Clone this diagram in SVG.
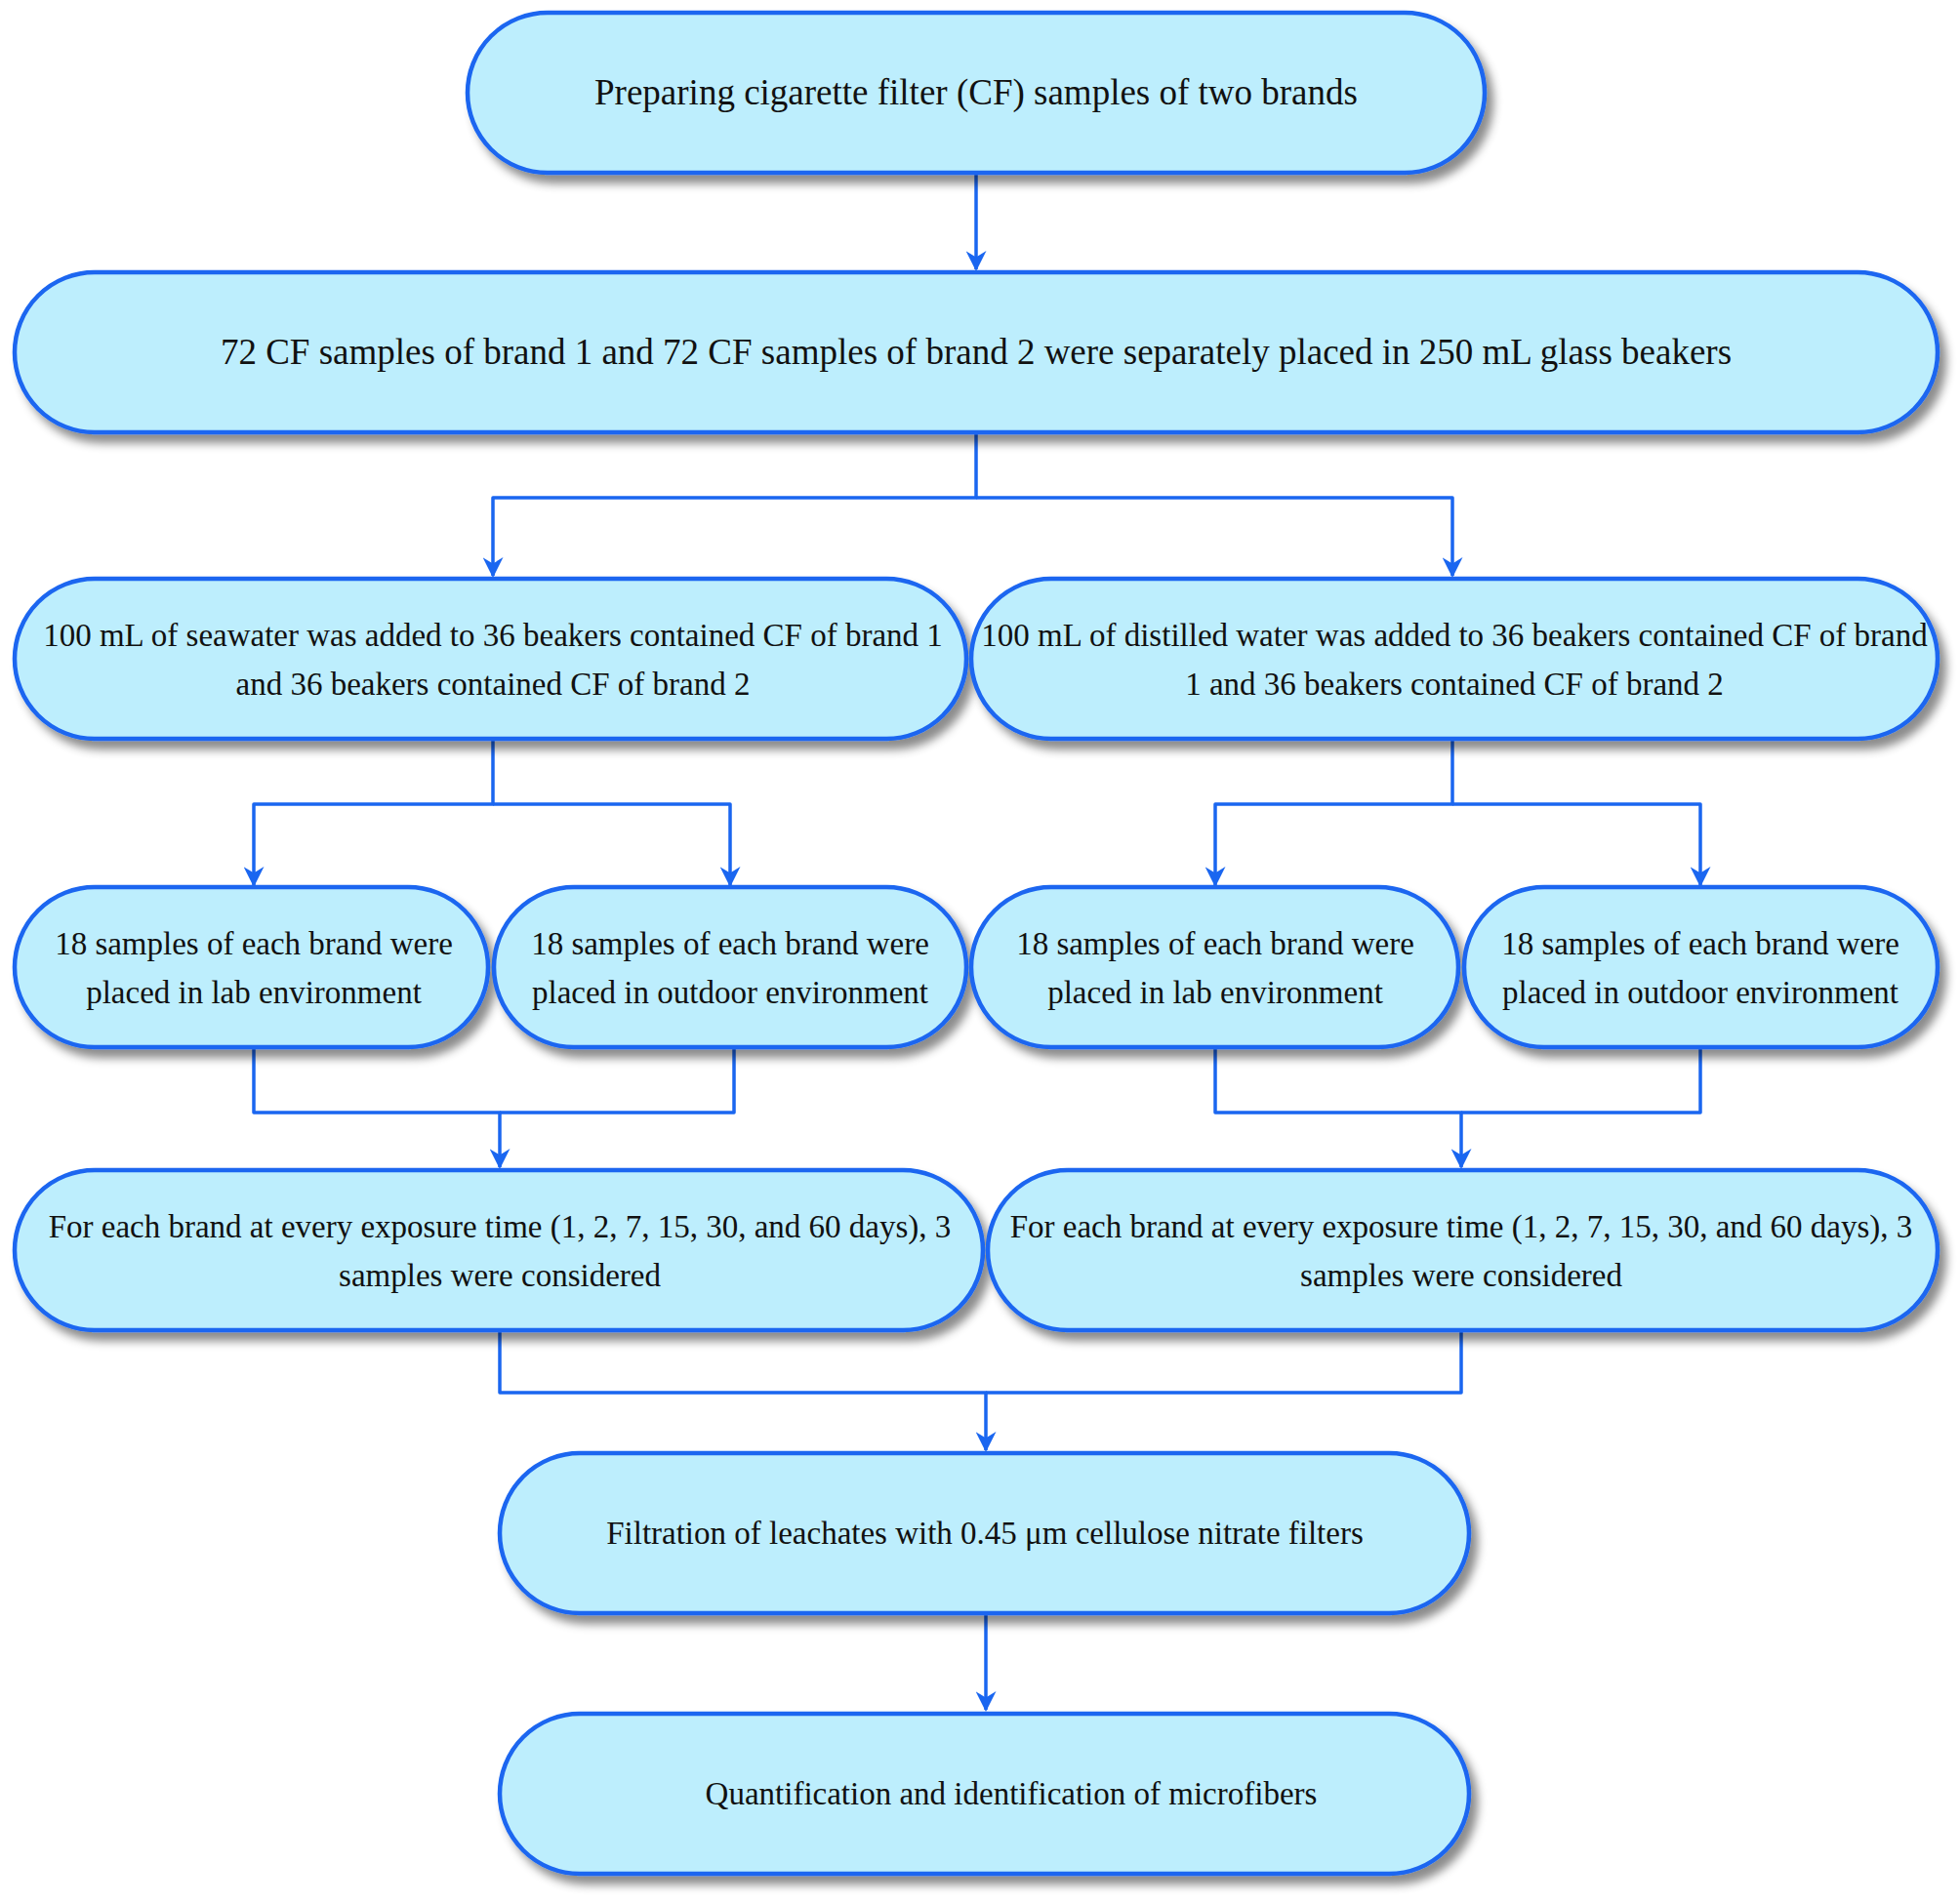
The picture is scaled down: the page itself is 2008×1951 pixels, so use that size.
<svg xmlns="http://www.w3.org/2000/svg" width="2008" height="1951" viewBox="0 0 2008 1951">
<defs>
<filter id="sh" x="-10%" y="-20%" width="120%" height="150%"><feDropShadow dx="7" dy="9" stdDeviation="5" flood-color="#000" flood-opacity="0.45"/></filter>
<marker id="ar" viewBox="0 0 10 10" refX="9" refY="5" markerWidth="7" markerHeight="6" orient="auto" markerUnits="strokeWidth"><path d="M0,0 L10,5 L0,10 L3,5 z" fill="#1a66f0"/></marker>
</defs>
<style>
.n rect{fill:#bdeefd;stroke:#1a66f0;stroke-width:4.5;filter:url(#sh)}
.n text{font-family:"Liberation Serif","Times New Roman",serif;font-size:33px;fill:#111;text-anchor:middle}
.n text.b{font-size:37px}
.c path{fill:none;stroke:#1a66f0;stroke-width:3.5;stroke-linejoin:round}
</style>
<rect width="2008" height="1951" fill="#fff"/>
<g class="c">
<path d="M1000,177 V276" marker-end="url(#ar)"/>
<path d="M1000,443 V510 H505 V590" marker-end="url(#ar)"/>
<path d="M1000,510 H1488 V590" marker-end="url(#ar)"/>
<path d="M505,757 V824 H260 V907" marker-end="url(#ar)"/>
<path d="M505,824 H748 V907" marker-end="url(#ar)"/>
<path d="M1488,757 V824 H1245 V907" marker-end="url(#ar)"/>
<path d="M1488,824 H1742 V907" marker-end="url(#ar)"/>
<path d="M260,1073 V1140 H512 V1196" marker-end="url(#ar)"/>
<path d="M752,1073 V1140 H512"/>
<path d="M1245,1073 V1140 H1497 V1196" marker-end="url(#ar)"/>
<path d="M1742,1073 V1140 H1497"/>
<path d="M512,1363 V1427 H1010 V1486" marker-end="url(#ar)"/>
<path d="M1497,1363 V1427 H1010"/>
<path d="M1010,1653 V1752" marker-end="url(#ar)"/>
</g>
<g class="n" id="n1"><rect x="479" y="13" width="1042" height="164" rx="82"/><text class="b" x="1000" y="107">Preparing cigarette filter (CF) samples of two brands</text></g>
<g class="n" id="n2"><rect x="15" y="279" width="1970" height="164" rx="82"/><text class="b" x="1000" y="373">72 CF samples of brand 1 and 72 CF samples of brand 2 were separately placed in 250 mL glass beakers</text></g>
<g class="n" id="n3"><rect x="15" y="593" width="975" height="164" rx="82"/><text x="505" y="662">100 mL of seawater was added to 36 beakers contained CF of brand 1</text><text x="505" y="712">and 36 beakers contained CF of brand 2</text></g>
<g class="n" id="n4"><rect x="995" y="593" width="990" height="164" rx="82"/><text x="1490" y="662">100 mL of distilled water was added to 36 beakers contained CF of brand</text><text x="1490" y="712">1 and 36 beakers contained CF of brand 2</text></g>
<g class="n" id="n5"><rect x="15" y="909" width="485" height="164" rx="82"/><text x="260" y="978">18 samples of each brand were</text><text x="260" y="1028">placed in lab environment</text></g>
<g class="n" id="n6"><rect x="506" y="909" width="484" height="164" rx="82"/><text x="748" y="978">18 samples of each brand were</text><text x="748" y="1028">placed in outdoor environment</text></g>
<g class="n" id="n7"><rect x="995" y="909" width="499" height="164" rx="82"/><text x="1245" y="978">18 samples of each brand were</text><text x="1245" y="1028">placed in lab environment</text></g>
<g class="n" id="n8"><rect x="1500" y="909" width="485" height="164" rx="82"/><text x="1742" y="978">18 samples of each brand were</text><text x="1742" y="1028">placed in outdoor environment</text></g>
<g class="n" id="n9"><rect x="15" y="1199" width="992" height="164" rx="82"/><text x="512" y="1268">For each brand at every exposure time (1, 2, 7, 15, 30, and 60 days), 3</text><text x="512" y="1318">samples were considered</text></g>
<g class="n" id="n10"><rect x="1012" y="1199" width="973" height="164" rx="82"/><text x="1497" y="1268">For each brand at every exposure time (1, 2, 7, 15, 30, and 60 days), 3</text><text x="1497" y="1318">samples were considered</text></g>
<g class="n" id="n11"><rect x="512" y="1489" width="993" height="164" rx="82"/><text x="1009" y="1582">Filtration of leachates with 0.45 μm cellulose nitrate filters</text></g>
<g class="n" id="n12"><rect x="512" y="1756" width="993" height="164" rx="82"/><text x="1036" y="1849">Quantification and identification of microfibers</text></g>
</svg>
